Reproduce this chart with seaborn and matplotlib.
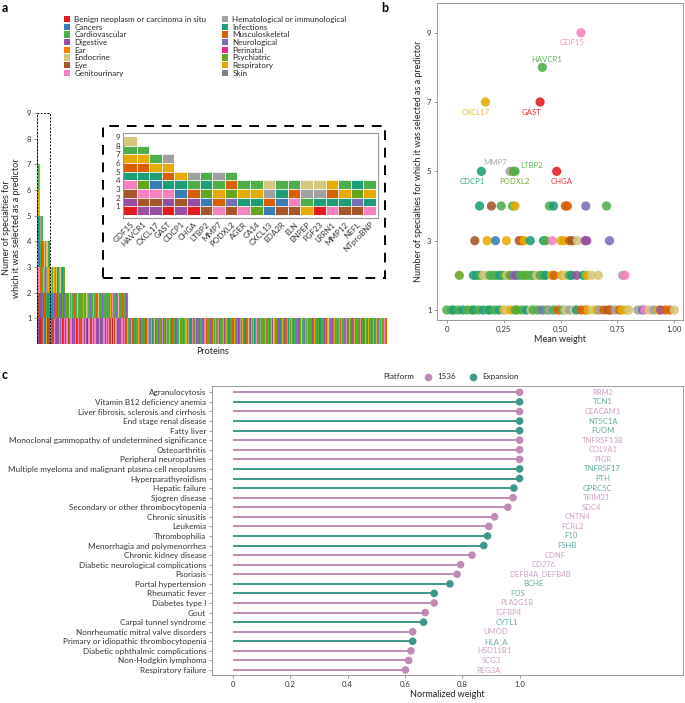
import numpy as np
import pandas as pd
import seaborn as sns
import matplotlib.pyplot as plt
from matplotlib.colors import ListedColormap
from matplotlib.patches import Rectangle, Patch

# ---- shared: specialties (hex code 0..f) ----
specialties = ['Benign neoplasm or carcinoma in situ', 'Cancers', 'Cardiovascular', 'Digestive',
               'Ear', 'Endocrine', 'Eye', 'Genitourinary',
               'Hematological or immunological', 'Infections', 'Musculoskeletal', 'Neurological',
               'Perinatal', 'Psychiatric', 'Respiratory', 'Skin']
spec_colors = ['#E41A1C', '#377EB8', '#4DAF4A', '#984EA3', '#FF7F00', '#D6C77E', '#A65628', '#F781BF',
               '#A0A0A0', '#1B9E77', '#D95F02', '#7570B3', '#E7298A', '#66A61E', '#E6AB02', '#808080']

# ---- panel a: specialty tiles per protein (bottom -> top) ----
top_proteins = ['GDF15', 'HAVCR1', 'CXCL17', 'GAST', 'CDCP1', 'CHGA', 'LTBP2', 'MMP7', 'PODXL2', 'AGER',
                'CA14', 'CXCL13', 'EDA2R', 'ELN', 'ENPEP', 'FGF23', 'LRRN1', 'MMP12', 'NEFL', 'NTproBNP']
top_tiles = ['03679ae25', '367d9ae2', '36719e2', '0379ae8', '3619e', '03a28', '61d92', '7ae28', '6bda2', '79e2',
             'd9e2', '1a85', '6192', '67a2', 'e285', '0985', '79ae', '69e2', '6bd9', '79e2']
# remaining proteins, one character per protein and level
rest_level3 = '5e2d59e2d53e2e5d29e2d5'
rest_level2 = ('9b91d93b9a19d9b93d19b9'
               '2d2b2d52d72d2a2d2b52d2d32d27d2d52e2d2b2d'
               '2d72d2a2d52d2d2b2d2d92d52d2e2d72d2d2b2d5'
               '2d2d2a2d2d732')
rest_level1 = ('7376307a736737b370637a373767370737b36707'
               '3763a737673b736073767373a767376307376b73'
               '7637a37376730736737363a73767b3763a73'
               '2d3b72a9d2b32d7e2a3d92b7d3a2e8d2b3792d5a3d72be2d9a'
               '7b3d2a8e2db72d3a9d2e3b7d2a5d92d3b2a7e2d82b93d7a2de'
               '73d2b9a2d5b3d7e2a29d2d3b7a8d2e9d2b73a2d5d7b32ae2d9'
               '3b2d7a9e2db7d32a8d2e2d9b3a7d5ed3b72ae9d27b2d3a8e2d'
               '3d2b7a9d2eb2d73a5e2dd7b3a29d2e2b3d7a8d9e3d7b2ae2d9'
               'b2d3a7d5e2d3b7a2e9d27d2b3a8e2d2b7d3a9d2ed3b2a7e5d2'
               'b7d3a2e9d23d2b7a8e2d2b3d7a9d2ed7b3a2e5d2b2d3a7e9d2'
               '3d7b2a8e2d2b3d7a9d2ed3b7a2e5d2b7d3a')

# ---- panel b: mean weight vs number of specialties ----
b_named = ['GDF15', 'HAVCR1', 'CXCL17', 'GAST', 'CDCP1', 'MMP7', 'PODXL2', 'LTBP2', 'CHGA']
b_named_x = [0.59, 0.42, 0.17, 0.41, 0.152, 0.278, 0.293, 0.30, 0.483]
b_named_y = [9, 8, 7, 7, 5, 5, 5, 5, 5]
b_named_code = '72e098d20'
b_x4 = [0.144, 0.196, 0.239, 0.289, 0.300, 0.451, 0.469, 0.521, 0.530, 0.611, 0.702]
b_code4 = '9622e29aab2'
b_x3 = [0.123, 0.177, 0.214, 0.262, 0.318, 0.331, 0.340, 0.367, 0.425, 0.435, 0.463, 0.502, 0.514,
        0.539, 0.551, 0.574, 0.608, 0.615, 0.715]
b_code3 = '6e1e6ae9927eea6533b'
b_x2 = [0.055, 0.117, 0.132, 0.146, 0.161, 0.176, 0.190, 0.205, 0.219, 0.234, 0.249, 0.263, 0.278,
        0.293, 0.307, 0.322, 0.337, 0.351, 0.366, 0.380, 0.395, 0.410, 0.424, 0.435, 0.461, 0.472,
        0.505, 0.520, 0.539, 0.549, 0.571, 0.600, 0.615, 0.637, 0.666, 0.773, 0.783]
b_code2 = 'd99255222925db322d225229eae52939e5587'
b_x1 = [0.00, 0.02, 0.03, 0.05, 0.07, 0.09, 0.11, 0.12, 0.14, 0.16, 0.18, 0.19, 0.21, 0.23, 0.25,
        0.26, 0.28, 0.30, 0.31, 0.33, 0.35, 0.37, 0.38, 0.40, 0.42, 0.44, 0.45, 0.47, 0.49, 0.51,
        0.52, 0.54, 0.56, 0.57, 0.59, 0.61, 0.62, 0.64, 0.66, 0.67, 0.69, 0.71, 0.72, 0.74, 0.76,
        0.77, 0.79, 0.80, 0.84, 0.86, 0.87, 0.89, 0.91, 0.93, 0.94, 0.96, 0.98, 1.00]
b_code1 = '229292d9292929e5e2d29522b282a25859aae5e8a6a8aee58b758e3aa5'

# ---- panel c: top protein per disease ----
diseases = ['Agranulocytosis', 'Vitamin B12 deficiency anemia', 'Liver fibrosis, sclerosis and cirrhosis',
            'End stage renal disease', 'Fatty liver', 'Monoclonal gammopathy of undetermined significance',
            'Osteoarthritis', 'Peripheral neuropathies', 'Multiple myeloma and malignant plasma cell neoplasms',
            'Hyperparathyroidism', 'Hepatic failure', 'Sjogren disease', 'Secondary or other thrombocytopenia',
            'Chronic sinusitis', 'Leukemia', 'Thrombophilia', 'Menorrhagia and polymenorrhea',
            'Chronic kidney disease', 'Diabetic neurological complications', 'Psoriasis', 'Portal hypertension',
            'Rheumatic fever', 'Diabetes type I', 'Gout', 'Carpal tunnel syndrome',
            'Nonrheumatic mitral valve disorders', 'Primary or idiopathic thrombocytopenia',
            'Diabetic ophthalmic complications', 'Non-Hodgkin lymphoma', 'Respiratory failure']
c_weight = [1.0, 1.0, 1.0, 1.0, 1.0, 1.0, 1.0, 1.0, 1.0, 1.0, 0.980, 0.977, 0.959, 0.913, 0.893,
            0.888, 0.875, 0.834, 0.794, 0.782, 0.757, 0.702, 0.702, 0.671, 0.665, 0.627, 0.627,
            0.621, 0.613, 0.602]
c_platform = ['1536', 'Expansion', '1536', 'Expansion', 'Expansion', '1536', '1536', '1536', 'Expansion',
              'Expansion', 'Expansion', '1536', '1536', '1536', '1536', 'Expansion', 'Expansion', '1536',
              '1536', '1536', 'Expansion', 'Expansion', '1536', '1536', 'Expansion', '1536', 'Expansion',
              '1536', '1536', '1536']
c_protein = ['RRM2', 'TCN1', 'CEACAM1', 'NT5C1A', 'FUOM', 'TNFRSF13B', 'COL9A1', 'PIGR', 'TNFRSF17', 'PTH',
             'GPRC5C', 'TRIM21', 'SDC4', 'CNTN4', 'FCRL2', 'F10', 'FSHB', 'CDNF', 'CD276', 'DEFB4A_DEFB4B',
             'BCHE', 'FOS', 'PLA2G1B', 'IGFBP4', 'CYTL1', 'UMOD', 'HLA_A', 'HSD11B1', 'SCG3', 'REG3A']
platform_colors = {'1536': '#C08AB5', 'Expansion': '#3D978A'}

sns.set_style('ticks')
plt.rcParams['font.family'] = ['Lato', 'DejaVu Sans']
plt.rcParams['axes.edgecolor'] = '#8a8a8a'
plt.rcParams['xtick.color'] = '#8a8a8a'
plt.rcParams['ytick.color'] = '#8a8a8a'
plt.rcParams['xtick.labelcolor'] = '#333333'
plt.rcParams['ytick.labelcolor'] = '#333333'
plt.rcParams['axes.labelcolor'] = '#222222'

W, H = 685, 703
fig = plt.figure(figsize=(W / 100, H / 100), dpi=100)


def px_axes(x0, y0, x1, y1):
    return fig.add_axes([x0 / W, 1 - y1 / H, (x1 - x0) / W, (y1 - y0) / H])


cmap = ListedColormap(spec_colors)

# build tile matrix (rows = level 1..9, columns = proteins)
stacks = [[int(c, 16) for c in t] for t in top_tiles]
for i, c1 in enumerate(rest_level1):
    t = [int(c1, 16)]
    if i < len(rest_level2):
        t.append(int(rest_level2[i], 16))
    if i < len(rest_level3):
        t.append(int(rest_level3[i], 16))
    stacks.append(t)
mat = np.full((9, len(stacks)), np.nan)
for j, t in enumerate(stacks):
    mat[:len(t), j] = t

# ---- panel a main ----
ax_a = px_axes(37, 112, 387, 344)
sns.heatmap(mat, ax=ax_a, cmap=cmap, vmin=-0.5, vmax=15.5, cbar=False,
            xticklabels=False, yticklabels=False)
ax_a.set_ylim(0, 9.04)
ax_a.set_xlim(0, len(stacks))
ax_a.set_yticks(range(1, 10))
ax_a.set_yticklabels(range(1, 10))
ax_a.tick_params(axis='y', length=2.5, width=0.6, labelsize=5.5, pad=1.5, left=True)
ax_a.set_xlabel('Proteins', fontsize=6.5, labelpad=2)
ax_a.set_ylabel('Numer of specialties for\nwhich it was selected as a predictor', fontsize=6.5, labelpad=4)
ax_a.add_patch(Rectangle((0, 0), len(top_tiles), 9, fill=False, ec='black', lw=0.7, ls=(0, (2, 1.5))))

# ---- panel a inset ----
ax_in = px_axes(123, 133, 378, 218)
n_top = len(top_tiles)
sns.heatmap(mat[:, :n_top], ax=ax_in, cmap=cmap, vmin=-0.5, vmax=15.5, cbar=False,
            linewidths=0, xticklabels=top_proteins, yticklabels=False)
ax_in.hlines(range(1, 9), 0, n_top, color='white', lw=0.6)
ax_in.vlines(range(1, n_top), 0, 9, color='white', lw=0.6)
ax_in.set_ylim(-0.35, 9.46)
ax_in.set_xlim(-0.08, 20.16)
for s in ax_in.spines.values():
    s.set_visible(True)
    s.set_color('#999999')
    s.set_linewidth(0.8)
ax_in.set_yticks(range(1, 10))
ax_in.set_yticklabels(range(1, 10))
ax_in.tick_params(axis='y', length=0, labelsize=5.8, pad=2)
ax_in.tick_params(axis='x', length=0, labelsize=5.8, pad=2)
plt.setp(ax_in.get_xticklabels(), rotation=45, ha='right', rotation_mode='anchor')
fig.patches.append(Rectangle((103 / W, 1 - 278 / H), 282 / W, 152 / H, transform=fig.transFigure,
                             fill=False, ec='black', lw=1.4, ls=(0, (5, 4))))

fig.legend(handles=[Patch(fc=c, ec='none') for c in spec_colors], labels=specialties,
           ncol=2, loc='upper left', bbox_to_anchor=(64 / W, 1 - 16 / H), frameon=False,
           fontsize=5.8, handlelength=0.8, handleheight=0.8, handletextpad=0.5,
           labelspacing=0.08, columnspacing=1.9, borderpad=0, borderaxespad=0)

# ---- panel b ----
b_df = pd.DataFrame({
    'x': b_x1 + b_x2 + b_x3 + b_x4 + b_named_x,
    'y': [1] * len(b_x1) + [2] * len(b_x2) + [3] * len(b_x3) + [4] * len(b_x4) + b_named_y,
    'code': list(b_code1 + b_code2 + b_code3 + b_code4 + b_named_code),
})
b_pal = {format(i, 'x'): c for i, c in enumerate(spec_colors)}
ax_b = px_axes(437, 3, 683, 320)
sns.scatterplot(data=b_df, x='x', y='y', hue='code', palette=b_pal, s=44, linewidth=0,
                alpha=0.88, legend=False, ax=ax_b)
label_offsets = [(-6.7, -7.2), (2.9, 6.0), (-6.7, -7.6), (-6.3, -7.6), (-6.7, -7.6),
                 (-10.8, 6.1), (0.7, -7.6), (12, 4.2), (3.8, -7.6)]
for name, x, y, code, off in zip(b_named, b_named_x, b_named_y, b_named_code, label_offsets):
    ax_b.annotate(name, (x, y), xytext=off, textcoords='offset points', ha='center', va='center',
                  fontsize=5.6, color=spec_colors[int(code, 16)], alpha=0.9)
ax_b.set_xlim(-0.043, 1.038)
ax_b.set_ylim(0.712, 9.856)
ax_b.set_xticks([0, 0.25, 0.5, 0.75, 1.0])
ax_b.set_xticklabels(['0', '0.25', '0.50', '0.75', '1.00'])
ax_b.set_yticks([1, 3, 5, 7, 9])
ax_b.tick_params(labelsize=5.6, length=2.5, width=0.6, pad=1.5)
ax_b.set_xlabel('Mean weight', fontsize=6.5, labelpad=2)
ax_b.set_ylabel('Number of specialties for which it was selected as a predictor', fontsize=6.5, labelpad=3)
for s in ax_b.spines.values():
    s.set_linewidth(0.6)

# ---- panel c ----
c_df = pd.DataFrame({'disease': diseases, 'weight': c_weight, 'Platform': c_platform,
                     'protein': c_protein, 'pos': range(len(diseases))})
ax_c = px_axes(211.7, 386, 683, 675)
ax_c.hlines(c_df['pos'], 0, c_df['weight'], colors=c_df['Platform'].map(platform_colors), lw=1.4)
sns.scatterplot(data=c_df, x='weight', y='pos', hue='Platform', palette=platform_colors,
                s=30, linewidth=0, legend=False, ax=ax_c, zorder=3)
for _, r in c_df.iterrows():
    ax_c.text(r['weight'] + 0.29, r['pos'], r['protein'], ha='center', va='center', fontsize=5.5,
              color=platform_colors[r['Platform']], alpha=0.8)
ax_c.set_ylim(29.52, -0.66)
ax_c.set_xlim(-0.074, 1.57)
ax_c.set_yticks(c_df['pos'])
ax_c.set_yticklabels(diseases)
ax_c.set_xticks([0, 0.2, 0.4, 0.6, 0.8, 1.0])
ax_c.set_xticklabels(['0', '0.2', '0.4', '0.6', '0.8', '1.0'])
ax_c.tick_params(axis='y', labelsize=5.9, length=2.5, width=0.6, pad=1.5)
ax_c.tick_params(axis='x', labelsize=5.6, length=2.5, width=0.6, pad=1.5)
ax_c.set_xlabel('Normalized weight', fontsize=6.5, labelpad=2)
ax_c.set_ylabel('')
for s in ax_c.spines.values():
    s.set_linewidth(0.6)

fig.text(383 / W, 1 - 377 / H, 'Platform', fontsize=5.8, va='center', color='#222222')
ax_c.legend(handles=[plt.Line2D([], [], marker='o', ls='', color=platform_colors[k], markersize=4.5)
                     for k in ['1536', 'Expansion']],
            labels=['1536', 'Expansion'], ncol=2, frameon=False, fontsize=5.8,
            loc='center left', bbox_to_anchor=(420 / W, 1 - 377 / H), bbox_transform=fig.transFigure,
            handletextpad=0.1, columnspacing=1.2, borderpad=0, borderaxespad=0)

for lab, x, y in [('a', 2, 8), ('b', 381, 8), ('c', 2, 375)]:
    fig.text(x / W, 1 - y / H, lab, fontsize=9, fontweight='bold', va='center', color='black')

fig.savefig('out.png', dpi=100)
